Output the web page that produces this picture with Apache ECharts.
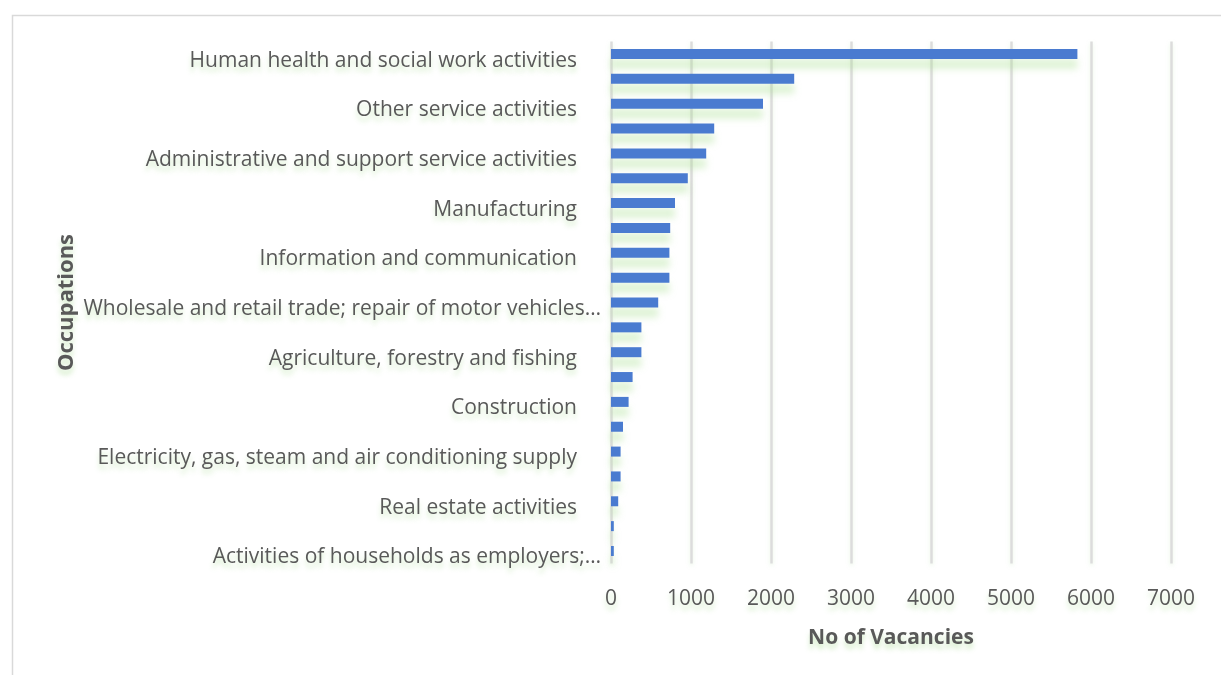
<!DOCTYPE html>
<html>
<head>
<meta charset="utf-8">
<title>No of Vacancies by Occupation</title>
<script src="https://cdn.jsdelivr.net/npm/echarts@6/dist/echarts.min.js"></script>
<style>
  html, body { margin: 0; padding: 0; background: #ffffff; }
  #chart { width: 1221px; height: 675px; }
</style>
</head>
<body>
<div id="chart"></div>
<script>
// Sectors, listed top to bottom; only every other one gets a visible label.
const occupations = [
  'Human health and social work activities',
  'Education',
  'Other service activities',
  'Accommodation and food service activities',
  'Administrative and support service activities',
  'Professional, scientific and technical activities',
  'Manufacturing',
  'Transportation and storage',
  'Information and communication',
  'Public administration and defence; compulsory social security',
  'Wholesale and retail trade; repair of motor vehicles…',
  'Financial and insurance activities',
  'Agriculture, forestry and fishing',
  'Arts, entertainment and recreation',
  'Construction',
  'Water supply; sewerage, waste management and remediation activities',
  'Electricity, gas, steam and air conditioning supply',
  'Mining and quarrying',
  'Real estate activities',
  'Activities of extraterritorial organisations and bodies',
  'Activities of households as employers;…'
];

const vacancies = [
  5830, 2290, 1900, 1290, 1190, 960, 800, 740, 730, 730, 590,
  380, 380, 270, 220, 150, 120, 120, 90, 35, 35
];

const valueTicks = [0, 1000, 2000, 3000, 4000, 5000, 6000, 7000];

const glow = 'rgba(160, 215, 135, 0.45)';
const textColor = '#595959';
const font = '"Open Sans", "Noto Sans", sans-serif';

const chart = echarts.init(document.getElementById('chart'), null, { renderer: 'canvas' });

chart.setOption({
  animation: false,
  backgroundColor: '#ffffff',
  graphic: [{
    type: 'rect',
    left: 10, top: 13,
    shape: { width: 1240, height: 700 },
    style: { fill: 'none', stroke: '#d9d9d9', lineWidth: 1.5 },
    z: -1
  }],
  grid: { left: 611, right: 50, top: 41.6, bottom: 111.6 },
  xAxis: {
    type: 'value',
    min: valueTicks[0],
    max: valueTicks[valueTicks.length - 1],
    interval: valueTicks[1] - valueTicks[0],
    name: 'No of Vacancies',
    nameLocation: 'middle',
    nameGap: 64,
    nameTextStyle: {
      color: textColor, fontFamily: font, fontSize: 21, fontWeight: 'bold',
      textShadowColor: glow, textShadowBlur: 5, textShadowOffsetY: 5
    },
    axisLine: { show: false },
    axisTick: { show: false },
    axisLabel: {
      color: textColor, fontFamily: font, fontSize: 21, margin: 25,
      formatter: function (v) { return String(v); },
      textShadowColor: glow, textShadowBlur: 5, textShadowOffsetY: 5
    },
    splitLine: {
      show: true,
      lineStyle: { color: '#dcdcdc', width: 2.5, shadowColor: 'rgba(190,230,175,0.35)', shadowBlur: 4, shadowOffsetY: 2 }
    }
  },
  yAxis: {
    type: 'category',
    data: occupations,
    inverse: true,
    name: 'Occupations',
    nameLocation: 'middle',
    nameGap: 533,
    nameRotate: 90,
    nameTextStyle: {
      color: textColor, fontFamily: font, fontSize: 22, fontWeight: 'bold',
      textShadowColor: glow, textShadowBlur: 5, textShadowOffsetX: 0, textShadowOffsetY: 5
    },
    axisLine: { show: false },
    axisTick: { show: false },
    axisLabel: {
      interval: 1,
      margin: 10,
      color: textColor, fontFamily: font, fontSize: 21,
      textShadowColor: glow, textShadowBlur: 5, textShadowOffsetY: 5,
      formatter: function (value) {
        return value.endsWith('…') ? '{cut|' + value + '}' : '{full|' + value + '}';
      },
      rich: {
        cut: { color: textColor, fontFamily: font, fontSize: 21, padding: [13, 0, 0, 0] },
        full: { color: textColor, fontFamily: font, fontSize: 21, padding: [13, 24, 0, 0] }
      }
    },
    splitLine: { show: false }
  },
  series: [{
    type: 'bar',
    data: vacancies,
    barWidth: 10,
    itemStyle: {
      color: '#4a7bd0',
      shadowColor: 'rgba(160, 220, 135, 0.35)',
      shadowBlur: 7,
      shadowOffsetY: 10
    }
  }]
});
</script>
</body>
</html>
